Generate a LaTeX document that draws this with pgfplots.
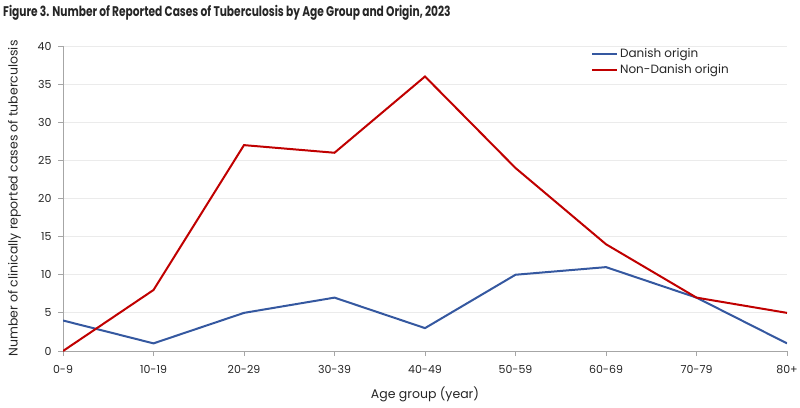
\documentclass[border=0pt]{standalone}
\usepackage{pgfplots}
\pgfplotsset{compat=1.18}
\usepackage{fontspec}
\setmainfont{Poppins}
\newfontfamily\titlefont[FakeStretch=0.76]{Poppins}
\definecolor{danish}{HTML}{3558A0}
\definecolor{nondanish}{HTML}{C00000}
\definecolor{txt}{HTML}{262626}
\definecolor{gridc}{HTML}{EBEBEB}
\definecolor{axc}{HTML}{A6A6A6}
\begin{document}
\begin{tikzpicture}[x=1pt,y=1pt]
\useasboundingbox (0,0) rectangle (800,407);
\node[anchor=west,text=txt,font=\titlefont\bfseries\fontsize{14}{16}\selectfont,inner sep=0pt] at (3,394) {Figure 3. Number of Reported Cases of Tuberculosis by Age Group and Origin, 2023};
\begin{axis}[
  at={(63pt,56pt)}, anchor=origin,
  scale only axis, width=724pt, height=305pt,
  xmin=0, xmax=8, ymin=0, ymax=40,
  xtick={0,...,8},
  xticklabels={0-9,10-19,20-29,30-39,40-49,50-59,60-69,70-79,80+},
  ytick={0,5,...,40},
  /pgf/number format/assume math mode=true,
  tick label style={font=\fontsize{11}{12}\selectfont, text=txt},
  ymajorgrids, grid style={gridc, line width=0.8pt},
  axis x line*=bottom, axis y line*=left,
  axis line style={axc, line width=0.8pt},
  tick style={axc, line width=0.8pt},
  major tick length=5pt,
  tick align=outside,
  xtick pos=bottom, ytick pos=left,
  xticklabel style={yshift=-6pt},
  yticklabel style={xshift=-3pt},
  xlabel={Age group (year)},
  ylabel={Number of clinically reported cases of tuberculosis},
  label style={font=\fontsize{12.5}{14}\selectfont, text=txt},
  xlabel style={yshift=-6pt},
  ylabel style={yshift=10pt},
  legend style={at={(0.725,1.005)}, anchor=north west, draw=none, fill=none,
    font=\fontsize{12}{14}\selectfont, text=txt, row sep=1pt},
  legend cell align=left,
  legend image code/.code={\draw[#1, line width=2pt] (0pt,0pt) -- (25pt,0pt);},
]
\addplot[danish, line width=2pt] coordinates {(0,4) (1,1) (2,5) (3,7) (4,3) (5,10) (6,11) (7,7) (8,1)};
\addlegendentry{Danish origin}
\addplot[nondanish, line width=2pt] coordinates {(0,0) (1,8) (2,27) (3,26) (4,36) (5,24) (6,14) (7,7) (8,5)};
\addlegendentry{Non-Danish origin}
\end{axis}
\end{tikzpicture}
\end{document}
